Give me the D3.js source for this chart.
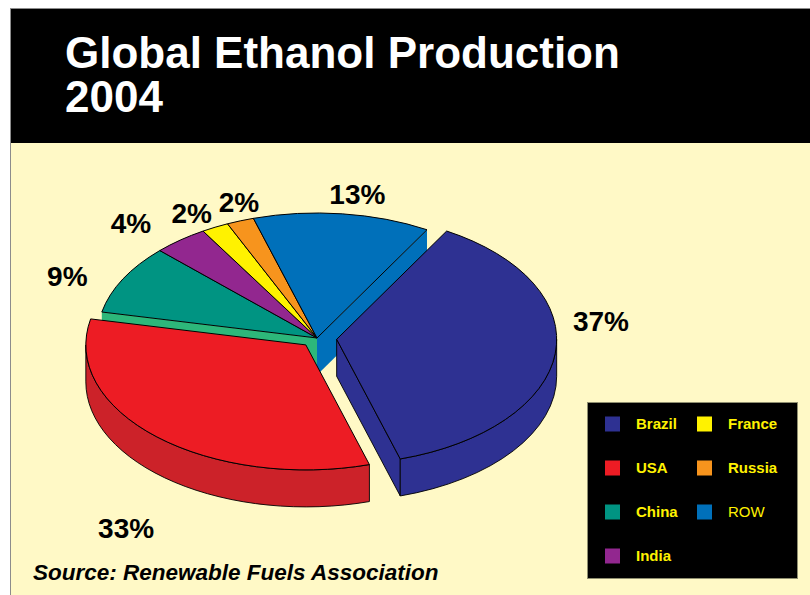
<!DOCTYPE html>
<html>
<head>
<meta charset="utf-8">
<script src="https://cdn.jsdelivr.net/npm/d3@7"></script>
<style>
  html, body { margin: 0; padding: 0; background: #fff; }
  svg { display: block; font-family: "Liberation Sans", Arial, sans-serif; }
</style>
</head>
<body>
<div id="main-chart"></div>
<script>
// data
const categories = ["Brazil", "USA", "China", "India", "France", "Russia", "ROW"];
const shares = [37, 33, 9, 4, 2, 2, 13];
const topColors = ["#2E3192", "#ED1C24", "#009482", "#92278F", "#FFF200", "#F7941D", "#0070BA"];
const sideColors = ["#2E3192", "#CC2229", "#2DB77A", "#92278F", "#FFF200", "#F7941D", "#0070BA"];
const legendCols = [["Brazil", "USA", "China", "India"], ["France", "Russia", "ROW"]];
const titleLines = ["Global Ethanol Production", "2004"];

// layout
const width = 810, height = 595;
const cx = 317, cy = 338, rx = 220, ry = 125, depth = 37;
const startDeg = 30;
const explodeBy = { Brazil: 0.09, USA: 0.075 };
const labelNudge = { Brazil: [2, -35], USA: [-1, 77], China: [-17, 6], India: [-22, -2], France: [-3, 2], Russia: [14, -1], ROW: [10, -1] };

const svg = d3.select("#main-chart").append("svg")
    .attr("width", width)
    .attr("height", height);

// frame
svg.append("rect").attr("x", 10).attr("y", 143).attr("width", width - 10).attr("height", height - 143).attr("fill", "#FFF9C6");
svg.append("rect").attr("x", 10).attr("y", 9).attr("width", width - 10).attr("height", 134).attr("fill", "#000");
svg.append("line").attr("x1", 10.5).attr("x2", 10.5).attr("y1", 8).attr("y2", height).attr("stroke", "#8c8c8c");
svg.append("line").attr("x1", 10).attr("x2", width).attr("y1", 8.5).attr("y2", 8.5).attr("stroke", "#8c8c8c");

// title as one text block, two lines
svg.append("text")
    .attr("fill", "#fff").attr("font-size", 44).attr("font-weight", "bold")
    .selectAll("tspan").data(titleLines).enter().append("tspan")
    .attr("x", 65).attr("y", (d, i) => 68 + i * 44)
    .text(d => d);

// pie geometry
const pie = d3.pie().sort(null).value(d => d.value)
    .startAngle(startDeg * Math.PI / 180)
    .endAngle((startDeg + 360) * Math.PI / 180);

const rows = categories.map((c, i) => ({ name: c, value: shares[i], top: topColors[i], side: sideColors[i] }));
const slices = pie(rows).map(d => {
    const m = (d.startAngle + d.endAngle) / 2;
    const e = explodeBy[d.data.name] || 0;
    return Object.assign(d, { mid: m, e: e, ox: cx + e * rx * Math.sin(m), oy: cy - e * ry * Math.cos(m) });
});

const P = (s, a, z) => [s.ox + rx * Math.sin(a), s.oy - ry * Math.cos(a) + z];

function topPath(s) {
    const p0 = P(s, s.startAngle, 0), p1 = P(s, s.endAngle, 0);
    const large = (s.endAngle - s.startAngle) > Math.PI ? 1 : 0;
    return `M${s.ox},${s.oy}L${p0}A${rx},${ry} 0 ${large} 1 ${p1}Z`;
}
function sidePath(s, a0, a1) {
    const t0 = P(s, a0, 0), t1 = P(s, a1, 0), b0 = P(s, a0, depth), b1 = P(s, a1, depth);
    return `M${t0}A${rx},${ry} 0 0 1 ${t1}L${b1}A${rx},${ry} 0 0 0 ${b0}Z`;
}
function wallPath(s, a) {
    const t = P(s, a, 0), b = P(s, a, depth);
    return `M${s.ox},${s.oy}L${t}L${b}L${s.ox},${s.oy + depth}Z`;
}

// only walls facing the viewer and bordering an exploded gap are drawn
const walls = [], sides = [];
const n = slices.length;
slices.forEach((s, i) => {
    const prev = slices[(i + n - 1) % n], next = slices[(i + 1) % n];
    if (Math.sin(s.startAngle) < 0 && (s.e > 0 || prev.e > 0))
        walls.push({ s, d: wallPath(s, s.startAngle), y: P(s, s.startAngle, 0)[1] + s.oy });
    if (Math.sin(s.endAngle) > 0 && (s.e > 0 || next.e > 0))
        walls.push({ s, d: wallPath(s, s.endAngle), y: P(s, s.endAngle, 0)[1] + s.oy });
    [0, 2 * Math.PI].forEach(k => {
        const a0 = Math.max(s.startAngle, Math.PI / 2 + k), a1 = Math.min(s.endAngle, 3 * Math.PI / 2 + k);
        if (a1 > a0) sides.push({ s, d: sidePath(s, a0, a1), y: s.oy });
    });
});
walls.sort((a, b) => a.y - b.y);

const g = svg.append("g");
g.selectAll("path.wall").data(walls).enter().append("path")
    .attr("class", "wall")
    .attr("d", d => d.d)
    .attr("fill", d => d.s.data.side)
    .attr("stroke", d => d.s.e > 0 ? "#000" : "none")
    .attr("stroke-width", 0.9)
    .attr("stroke-linejoin", "round");

g.selectAll("path.side").data(sides).enter().append("path")
    .attr("class", "side")
    .attr("d", d => d.d)
    .attr("fill", d => d.s.data.side)
    .attr("stroke", "#000")
    .attr("stroke-width", 0.9)
    .attr("stroke-linejoin", "round");

g.selectAll("path.top").data(slices).enter().append("path")
    .attr("class", "top")
    .attr("d", topPath)
    .attr("fill", d => d.data.top)
    .attr("stroke", "#000")
    .attr("stroke-width", 1)
    .attr("stroke-linejoin", "round");

// percentage labels
svg.selectAll("text.pct").data(slices).enter().append("text")
    .attr("class", "pct")
    .attr("x", d => d.ox + 1.2 * rx * Math.sin(d.mid) + labelNudge[d.data.name][0])
    .attr("y", d => d.oy - 1.15 * ry * Math.cos(d.mid) + labelNudge[d.data.name][1])
    .attr("dy", "0.36em")
    .attr("text-anchor", "middle")
    .attr("font-size", 28)
    .attr("font-weight", "bold")
    .attr("fill", "#000")
    .text(d => d.data.value + "%");

// source
svg.append("text").attr("x", 33).attr("y", 580)
    .attr("font-size", 22.5).attr("font-weight", "bold").attr("font-style", "italic")
    .attr("fill", "#000")
    .text("Source:  Renewable Fuels Association");

// legend
const legend = svg.append("g");
legend.append("rect").attr("x", 587.5).attr("y", 402.5).attr("width", 210).attr("height", 176)
    .attr("fill", "#000").attr("stroke", "#8f8f70");
const colX = [605, 697], rowY = [424, 468, 512, 556];
legendCols.forEach((col, ci) => {
    col.forEach((name, ri) => {
        const i = categories.indexOf(name);
        legend.append("rect")
            .attr("x", colX[ci]).attr("y", rowY[ri] - 7.5)
            .attr("width", 15).attr("height", 15)
            .attr("fill", topColors[i]);
        legend.append("text")
            .attr("x", colX[ci] + 31).attr("y", rowY[ri])
            .attr("dy", "0.36em")
            .attr("font-size", 15)
            .attr("font-weight", name === "ROW" ? "normal" : "bold")
            .attr("fill", "#FFF200")
            .text(name);
    });
});
</script>
</body>
</html>
